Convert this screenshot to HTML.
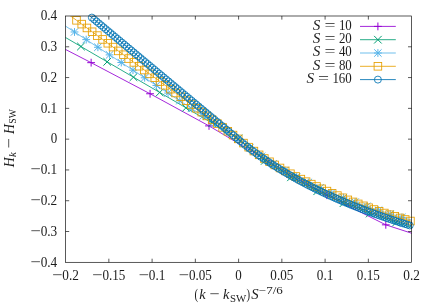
<!DOCTYPE html>
<html><head><meta charset="utf-8"><title>plot</title>
<style>
html,body{margin:0;padding:0;background:#fff;}
body{width:436px;height:305px;overflow:hidden;font-family:"Liberation Serif",serif;}
svg{display:block;will-change:transform;font-family:"Liberation Serif",serif;}
.t{font-size:15.1px;fill:#1c1c1c;}
.i{font-style:italic;}
.s{font-size:10.5px;}
</style></head><body>
<svg width="436" height="305" viewBox="0 0 436 305">
<rect width="436" height="305" fill="#fff"/>
<defs><clipPath id="c"><rect x="65.6" y="16.0" width="346.0" height="246.3"/></clipPath></defs>

<g stroke="#000" stroke-width="0.65" fill="none">
<path d="M108.85 262.3v-3.6M108.85 16.0v3.6"/>
<path d="M65.6 231.51h3.6M411.6 231.51h-3.6"/>
<path d="M152.10 262.3v-3.6M152.10 16.0v3.6"/>
<path d="M65.6 200.73h3.6M411.6 200.73h-3.6"/>
<path d="M195.35 262.3v-3.6M195.35 16.0v3.6"/>
<path d="M65.6 169.94h3.6M411.6 169.94h-3.6"/>
<path d="M238.60 262.3v-3.6M238.60 16.0v3.6"/>
<path d="M65.6 139.15h3.6M411.6 139.15h-3.6"/>
<path d="M281.85 262.3v-3.6M281.85 16.0v3.6"/>
<path d="M65.6 108.36h3.6M411.6 108.36h-3.6"/>
<path d="M325.10 262.3v-3.6M325.10 16.0v3.6"/>
<path d="M65.6 77.57h3.6M411.6 77.57h-3.6"/>
<path d="M368.35 262.3v-3.6M368.35 16.0v3.6"/>
<path d="M65.6 46.79h3.6M411.6 46.79h-3.6"/>
</g>
<text class="t" x="51.99" y="279.5" textLength="10.4" lengthAdjust="spacingAndGlyphs">−</text>
<text class="t" x="62.36" y="279.5" textLength="16.6" lengthAdjust="spacingAndGlyphs">0.2</text>
<text class="t" x="92.00" y="279.5" textLength="10.4" lengthAdjust="spacingAndGlyphs">−</text>
<text class="t" x="102.38" y="279.5" textLength="23.0" lengthAdjust="spacingAndGlyphs">0.15</text>
<text class="t" x="138.49" y="279.5" textLength="10.4" lengthAdjust="spacingAndGlyphs">−</text>
<text class="t" x="148.86" y="279.5" textLength="16.6" lengthAdjust="spacingAndGlyphs">0.1</text>
<text class="t" x="178.50" y="279.5" textLength="10.4" lengthAdjust="spacingAndGlyphs">−</text>
<text class="t" x="188.88" y="279.5" textLength="23.0" lengthAdjust="spacingAndGlyphs">0.05</text>
<text class="t" x="235.36" y="279.5" textLength="6.5" lengthAdjust="spacingAndGlyphs">0</text>
<text class="t" x="270.34" y="279.5" textLength="23.0" lengthAdjust="spacingAndGlyphs">0.05</text>
<text class="t" x="316.82" y="279.5" textLength="16.6" lengthAdjust="spacingAndGlyphs">0.1</text>
<text class="t" x="356.84" y="279.5" textLength="23.0" lengthAdjust="spacingAndGlyphs">0.15</text>
<text class="t" x="403.32" y="279.5" textLength="16.6" lengthAdjust="spacingAndGlyphs">0.2</text>
<text class="t" x="30.27" y="266.50" textLength="10.4" lengthAdjust="spacingAndGlyphs">−</text>
<text class="t" x="40.65" y="266.50" textLength="16.6" lengthAdjust="spacingAndGlyphs">0.4</text>
<text class="t" x="30.27" y="235.71" textLength="10.4" lengthAdjust="spacingAndGlyphs">−</text>
<text class="t" x="40.65" y="235.71" textLength="16.6" lengthAdjust="spacingAndGlyphs">0.3</text>
<text class="t" x="30.27" y="204.93" textLength="10.4" lengthAdjust="spacingAndGlyphs">−</text>
<text class="t" x="40.65" y="204.93" textLength="16.6" lengthAdjust="spacingAndGlyphs">0.2</text>
<text class="t" x="30.27" y="174.14" textLength="10.4" lengthAdjust="spacingAndGlyphs">−</text>
<text class="t" x="40.65" y="174.14" textLength="16.6" lengthAdjust="spacingAndGlyphs">0.1</text>
<text class="t" x="50.73" y="143.35" textLength="6.5" lengthAdjust="spacingAndGlyphs">0</text>
<text class="t" x="40.65" y="112.56" textLength="16.6" lengthAdjust="spacingAndGlyphs">0.1</text>
<text class="t" x="40.65" y="81.77" textLength="16.6" lengthAdjust="spacingAndGlyphs">0.2</text>
<text class="t" x="40.65" y="50.99" textLength="16.6" lengthAdjust="spacingAndGlyphs">0.3</text>
<text class="t" x="40.65" y="20.20" textLength="16.6" lengthAdjust="spacingAndGlyphs">0.4</text>
<g fill="none" stroke-width="0.85">
<path d="M32.21 32.32L91.14 62.66L150.07 93.76L209.01 125.90L267.94 160.97L326.87 195.20L385.80 224.83L444.73 243.99" stroke="#9400D3" clip-path="url(#c)"/>
<path d="M87.24 62.66H95.04M91.14 58.76V66.56" stroke="#9400D3" stroke-width="1"/>
<path d="M146.17 93.76H153.97M150.07 89.86V97.66" stroke="#9400D3" stroke-width="1"/>
<path d="M205.11 125.90H212.91M209.01 122.00V129.80" stroke="#9400D3" stroke-width="1"/>
<path d="M264.04 160.97H271.84M267.94 157.07V164.87" stroke="#9400D3" stroke-width="1"/>
<path d="M322.97 195.20H330.77M326.87 191.30V199.10" stroke="#9400D3" stroke-width="1"/>
<path d="M381.90 224.83H389.70M385.80 220.93V228.73" stroke="#9400D3" stroke-width="1"/>
</g>
<g fill="none" stroke-width="0.85">
<path d="M54.70 31.19L80.95 46.51L107.20 61.84L133.45 77.16L159.71 92.48L185.96 107.81L212.21 123.13L238.46 138.45L264.71 160.89L290.96 177.32L317.21 191.24L343.46 203.19L369.71 213.54L395.97 222.61L422.22 230.62L448.47 237.74" stroke="#009E73" clip-path="url(#c)"/>
<path d="M77.15 42.71L84.75 50.31M77.15 50.31L84.75 42.71" stroke="#009E73" stroke-width="1"/>
<path d="M103.40 58.04L111.00 65.64M103.40 65.64L111.00 58.04" stroke="#009E73" stroke-width="1"/>
<path d="M129.65 73.36L137.25 80.96M129.65 80.96L137.25 73.36" stroke="#009E73" stroke-width="1"/>
<path d="M155.91 88.68L163.51 96.28M155.91 96.28L163.51 88.68" stroke="#009E73" stroke-width="1"/>
<path d="M182.16 104.01L189.76 111.61M182.16 111.61L189.76 104.01" stroke="#009E73" stroke-width="1"/>
<path d="M208.41 119.33L216.01 126.93M208.41 126.93L216.01 119.33" stroke="#009E73" stroke-width="1"/>
<path d="M234.66 134.65L242.26 142.25M234.66 142.25L242.26 134.65" stroke="#009E73" stroke-width="1"/>
<path d="M260.91 157.09L268.51 164.69M260.91 164.69L268.51 157.09" stroke="#009E73" stroke-width="1"/>
<path d="M287.16 173.52L294.76 181.12M287.16 181.12L294.76 173.52" stroke="#009E73" stroke-width="1"/>
<path d="M313.41 187.44L321.01 195.04M313.41 195.04L321.01 187.44" stroke="#009E73" stroke-width="1"/>
<path d="M339.66 199.39L347.26 206.99M339.66 206.99L347.26 199.39" stroke="#009E73" stroke-width="1"/>
<path d="M365.91 209.74L373.51 217.34M365.91 217.34L373.51 209.74" stroke="#009E73" stroke-width="1"/>
<path d="M392.17 218.81L399.77 226.41M392.17 226.41L399.77 218.81" stroke="#009E73" stroke-width="1"/>
</g>
<g fill="none" stroke-width="0.85">
<path d="M62.81 24.34L74.51 31.98L86.20 39.62L97.90 47.25L109.59 54.89L121.28 62.53L132.98 70.16L144.67 77.80L156.36 85.44L168.06 93.08L179.75 100.71L191.44 108.35L203.14 115.99L214.83 123.63L226.52 131.26L238.22 138.90L249.91 147.95L261.60 156.32L273.30 163.74L284.99 170.48L296.69 176.70L308.38 182.45L320.07 187.77L331.77 192.82L343.46 197.61L355.15 202.09L366.85 206.29L378.54 210.22L390.23 213.91L401.93 217.39L413.62 220.69L425.31 223.97" stroke="#56B4E9" clip-path="url(#c)"/>
<path d="M70.61 31.98H78.41M74.51 28.08V35.88M70.81 28.28L78.21 35.68M70.81 35.68L78.21 28.28" stroke="#56B4E9" stroke-width="1"/>
<path d="M82.30 39.62H90.10M86.20 35.72V43.52M82.50 35.92L89.90 43.32M82.50 43.32L89.90 35.92" stroke="#56B4E9" stroke-width="1"/>
<path d="M94.00 47.25H101.80M97.90 43.35V51.15M94.20 43.55L101.60 50.95M94.20 50.95L101.60 43.55" stroke="#56B4E9" stroke-width="1"/>
<path d="M105.69 54.89H113.49M109.59 50.99V58.79M105.89 51.19L113.29 58.59M105.89 58.59L113.29 51.19" stroke="#56B4E9" stroke-width="1"/>
<path d="M117.38 62.53H125.18M121.28 58.63V66.43M117.58 58.83L124.98 66.23M117.58 66.23L124.98 58.83" stroke="#56B4E9" stroke-width="1"/>
<path d="M129.08 70.16H136.88M132.98 66.26V74.06M129.28 66.46L136.68 73.86M129.28 73.86L136.68 66.46" stroke="#56B4E9" stroke-width="1"/>
<path d="M140.77 77.80H148.57M144.67 73.90V81.70M140.97 74.10L148.37 81.50M140.97 81.50L148.37 74.10" stroke="#56B4E9" stroke-width="1"/>
<path d="M152.46 85.44H160.26M156.36 81.54V89.34M152.66 81.74L160.06 89.14M152.66 89.14L160.06 81.74" stroke="#56B4E9" stroke-width="1"/>
<path d="M164.16 93.08H171.96M168.06 89.18V96.98M164.36 89.38L171.76 96.78M164.36 96.78L171.76 89.38" stroke="#56B4E9" stroke-width="1"/>
<path d="M175.85 100.71H183.65M179.75 96.81V104.61M176.05 97.01L183.45 104.41M176.05 104.41L183.45 97.01" stroke="#56B4E9" stroke-width="1"/>
<path d="M187.54 108.35H195.34M191.44 104.45V112.25M187.74 104.65L195.14 112.05M187.74 112.05L195.14 104.65" stroke="#56B4E9" stroke-width="1"/>
<path d="M199.24 115.99H207.04M203.14 112.09V119.89M199.44 112.29L206.84 119.69M199.44 119.69L206.84 112.29" stroke="#56B4E9" stroke-width="1"/>
<path d="M210.93 123.63H218.73M214.83 119.73V127.53M211.13 119.93L218.53 127.33M211.13 127.33L218.53 119.93" stroke="#56B4E9" stroke-width="1"/>
<path d="M222.62 131.26H230.42M226.52 127.36V135.16M222.82 127.56L230.22 134.96M222.82 134.96L230.22 127.56" stroke="#56B4E9" stroke-width="1"/>
<path d="M234.32 138.90H242.12M238.22 135.00V142.80M234.52 135.20L241.92 142.60M234.52 142.60L241.92 135.20" stroke="#56B4E9" stroke-width="1"/>
<path d="M246.01 147.95H253.81M249.91 144.05V151.85M246.21 144.25L253.61 151.65M246.21 151.65L253.61 144.25" stroke="#56B4E9" stroke-width="1"/>
<path d="M257.70 156.32H265.50M261.60 152.42V160.22M257.90 152.62L265.30 160.02M257.90 160.02L265.30 152.62" stroke="#56B4E9" stroke-width="1"/>
<path d="M269.40 163.74H277.20M273.30 159.84V167.64M269.60 160.04L277.00 167.44M269.60 167.44L277.00 160.04" stroke="#56B4E9" stroke-width="1"/>
<path d="M281.09 170.48H288.89M284.99 166.58V174.38M281.29 166.78L288.69 174.18M281.29 174.18L288.69 166.78" stroke="#56B4E9" stroke-width="1"/>
<path d="M292.79 176.70H300.59M296.69 172.80V180.60M292.99 173.00L300.39 180.40M292.99 180.40L300.39 173.00" stroke="#56B4E9" stroke-width="1"/>
<path d="M304.48 182.45H312.28M308.38 178.55V186.35M304.68 178.75L312.08 186.15M304.68 186.15L312.08 178.75" stroke="#56B4E9" stroke-width="1"/>
<path d="M316.17 187.77H323.97M320.07 183.87V191.67M316.37 184.07L323.77 191.47M316.37 191.47L323.77 184.07" stroke="#56B4E9" stroke-width="1"/>
<path d="M327.87 192.82H335.67M331.77 188.92V196.72M328.07 189.12L335.47 196.52M328.07 196.52L335.47 189.12" stroke="#56B4E9" stroke-width="1"/>
<path d="M339.56 197.61H347.36M343.46 193.71V201.51M339.76 193.91L347.16 201.31M339.76 201.31L347.16 193.91" stroke="#56B4E9" stroke-width="1"/>
<path d="M351.25 202.09H359.05M355.15 198.19V205.99M351.45 198.39L358.85 205.79M351.45 205.79L358.85 198.39" stroke="#56B4E9" stroke-width="1"/>
<path d="M362.95 206.29H370.75M366.85 202.39V210.19M363.15 202.59L370.55 209.99M363.15 209.99L370.55 202.59" stroke="#56B4E9" stroke-width="1"/>
<path d="M374.64 210.22H382.44M378.54 206.32V214.12M374.84 206.52L382.24 213.92M374.84 213.92L382.24 206.52" stroke="#56B4E9" stroke-width="1"/>
<path d="M386.33 213.91H394.13M390.23 210.01V217.81M386.53 210.21L393.93 217.61M386.53 217.61L393.93 210.21" stroke="#56B4E9" stroke-width="1"/>
<path d="M398.03 217.39H405.83M401.93 213.49V221.29M398.23 213.69L405.63 221.09M398.23 221.09L405.63 213.69" stroke="#56B4E9" stroke-width="1"/>
</g>
<g fill="none" stroke-width="0.85">
<path d="M66.06 12.65L71.28 16.47L76.50 20.30L81.72 24.12L86.93 27.95L92.15 31.77L97.37 35.60L102.59 39.42L107.81 43.25L113.02 47.08L118.24 50.90L123.46 54.73L128.68 58.55L133.89 62.38L139.11 66.20L144.33 70.03L149.55 73.86L154.76 77.68L159.98 81.51L165.20 85.33L170.42 89.16L175.63 92.98L180.85 96.81L186.07 100.63L191.29 104.46L196.51 108.29L201.72 112.11L206.94 115.94L212.16 119.76L217.38 123.59L222.59 127.41L227.81 131.24L233.03 135.07L238.25 138.89L243.46 143.09L248.68 147.15L253.90 151.07L259.12 154.84L264.34 158.48L269.55 161.77L274.77 164.93L279.99 167.97L285.21 170.91L290.42 173.74L295.64 176.47L300.86 179.11L306.08 181.66L311.29 184.12L316.51 186.50L321.73 188.80L326.95 191.08L332.17 193.38L337.38 195.60L342.60 197.77L347.82 199.87L353.04 201.91L358.25 203.89L363.47 205.82L368.69 207.70L373.91 209.52L379.12 211.29L384.34 213.02L389.56 214.70L394.78 216.34L400.00 217.94L405.21 219.49L410.43 221.01L415.65 222.52" stroke="#E69F00" clip-path="url(#c)"/>
<rect x="72.70" y="16.50" width="7.60" height="7.60" stroke="#E69F00"/>
<rect x="77.92" y="20.32" width="7.60" height="7.60" stroke="#E69F00"/>
<rect x="83.13" y="24.15" width="7.60" height="7.60" stroke="#E69F00"/>
<rect x="88.35" y="27.97" width="7.60" height="7.60" stroke="#E69F00"/>
<rect x="93.57" y="31.80" width="7.60" height="7.60" stroke="#E69F00"/>
<rect x="98.79" y="35.62" width="7.60" height="7.60" stroke="#E69F00"/>
<rect x="104.01" y="39.45" width="7.60" height="7.60" stroke="#E69F00"/>
<rect x="109.22" y="43.28" width="7.60" height="7.60" stroke="#E69F00"/>
<rect x="114.44" y="47.10" width="7.60" height="7.60" stroke="#E69F00"/>
<rect x="119.66" y="50.93" width="7.60" height="7.60" stroke="#E69F00"/>
<rect x="124.88" y="54.75" width="7.60" height="7.60" stroke="#E69F00"/>
<rect x="130.09" y="58.58" width="7.60" height="7.60" stroke="#E69F00"/>
<rect x="135.31" y="62.40" width="7.60" height="7.60" stroke="#E69F00"/>
<rect x="140.53" y="66.23" width="7.60" height="7.60" stroke="#E69F00"/>
<rect x="145.75" y="70.06" width="7.60" height="7.60" stroke="#E69F00"/>
<rect x="150.96" y="73.88" width="7.60" height="7.60" stroke="#E69F00"/>
<rect x="156.18" y="77.71" width="7.60" height="7.60" stroke="#E69F00"/>
<rect x="161.40" y="81.53" width="7.60" height="7.60" stroke="#E69F00"/>
<rect x="166.62" y="85.36" width="7.60" height="7.60" stroke="#E69F00"/>
<rect x="171.83" y="89.18" width="7.60" height="7.60" stroke="#E69F00"/>
<rect x="177.05" y="93.01" width="7.60" height="7.60" stroke="#E69F00"/>
<rect x="182.27" y="96.83" width="7.60" height="7.60" stroke="#E69F00"/>
<rect x="187.49" y="100.66" width="7.60" height="7.60" stroke="#E69F00"/>
<rect x="192.71" y="104.49" width="7.60" height="7.60" stroke="#E69F00"/>
<rect x="197.92" y="108.31" width="7.60" height="7.60" stroke="#E69F00"/>
<rect x="203.14" y="112.14" width="7.60" height="7.60" stroke="#E69F00"/>
<rect x="208.36" y="115.96" width="7.60" height="7.60" stroke="#E69F00"/>
<rect x="213.58" y="119.79" width="7.60" height="7.60" stroke="#E69F00"/>
<rect x="218.79" y="123.61" width="7.60" height="7.60" stroke="#E69F00"/>
<rect x="224.01" y="127.44" width="7.60" height="7.60" stroke="#E69F00"/>
<rect x="229.23" y="131.27" width="7.60" height="7.60" stroke="#E69F00"/>
<rect x="234.45" y="135.09" width="7.60" height="7.60" stroke="#E69F00"/>
<rect x="239.66" y="139.29" width="7.60" height="7.60" stroke="#E69F00"/>
<rect x="244.88" y="143.35" width="7.60" height="7.60" stroke="#E69F00"/>
<rect x="250.10" y="147.27" width="7.60" height="7.60" stroke="#E69F00"/>
<rect x="255.32" y="151.04" width="7.60" height="7.60" stroke="#E69F00"/>
<rect x="260.54" y="154.68" width="7.60" height="7.60" stroke="#E69F00"/>
<rect x="265.75" y="157.97" width="7.60" height="7.60" stroke="#E69F00"/>
<rect x="270.97" y="161.13" width="7.60" height="7.60" stroke="#E69F00"/>
<rect x="276.19" y="164.17" width="7.60" height="7.60" stroke="#E69F00"/>
<rect x="281.41" y="167.11" width="7.60" height="7.60" stroke="#E69F00"/>
<rect x="286.62" y="169.94" width="7.60" height="7.60" stroke="#E69F00"/>
<rect x="291.84" y="172.67" width="7.60" height="7.60" stroke="#E69F00"/>
<rect x="297.06" y="175.31" width="7.60" height="7.60" stroke="#E69F00"/>
<rect x="302.28" y="177.86" width="7.60" height="7.60" stroke="#E69F00"/>
<rect x="307.49" y="180.32" width="7.60" height="7.60" stroke="#E69F00"/>
<rect x="312.71" y="182.70" width="7.60" height="7.60" stroke="#E69F00"/>
<rect x="317.93" y="185.00" width="7.60" height="7.60" stroke="#E69F00"/>
<rect x="323.15" y="187.28" width="7.60" height="7.60" stroke="#E69F00"/>
<rect x="328.37" y="189.58" width="7.60" height="7.60" stroke="#E69F00"/>
<rect x="333.58" y="191.80" width="7.60" height="7.60" stroke="#E69F00"/>
<rect x="338.80" y="193.97" width="7.60" height="7.60" stroke="#E69F00"/>
<rect x="344.02" y="196.07" width="7.60" height="7.60" stroke="#E69F00"/>
<rect x="349.24" y="198.11" width="7.60" height="7.60" stroke="#E69F00"/>
<rect x="354.45" y="200.09" width="7.60" height="7.60" stroke="#E69F00"/>
<rect x="359.67" y="202.02" width="7.60" height="7.60" stroke="#E69F00"/>
<rect x="364.89" y="203.90" width="7.60" height="7.60" stroke="#E69F00"/>
<rect x="370.11" y="205.72" width="7.60" height="7.60" stroke="#E69F00"/>
<rect x="375.32" y="207.49" width="7.60" height="7.60" stroke="#E69F00"/>
<rect x="380.54" y="209.22" width="7.60" height="7.60" stroke="#E69F00"/>
<rect x="385.76" y="210.90" width="7.60" height="7.60" stroke="#E69F00"/>
<rect x="390.98" y="212.54" width="7.60" height="7.60" stroke="#E69F00"/>
<rect x="396.20" y="214.14" width="7.60" height="7.60" stroke="#E69F00"/>
<rect x="401.41" y="215.69" width="7.60" height="7.60" stroke="#E69F00"/>
<rect x="406.63" y="217.21" width="7.60" height="7.60" stroke="#E69F00"/>
</g>
<g fill="none" stroke-width="0.85">
<path d="M87.25 13.72L89.57 15.65L91.89 17.58L94.22 19.51L96.54 21.45L98.86 23.38L101.18 25.31L103.50 27.24L105.82 29.18L108.14 31.11L110.46 33.04L112.78 34.97L115.10 36.91L117.42 38.84L119.74 40.77L122.06 42.70L124.38 44.64L126.70 46.57L129.02 48.50L131.34 50.43L133.66 52.37L135.98 54.30L138.30 56.23L140.62 58.16L142.94 60.10L145.26 62.03L147.58 63.96L149.90 65.89L152.22 67.83L154.54 69.76L156.86 71.69L159.18 73.62L161.50 75.56L163.82 77.49L166.14 79.42L168.46 81.35L170.78 83.29L173.11 85.22L175.43 87.15L177.75 89.08L180.07 91.01L182.39 92.95L184.71 94.88L187.03 96.81L189.35 98.74L191.67 100.68L193.99 102.61L196.31 104.54L198.63 106.47L200.95 108.41L203.27 110.34L205.59 112.27L207.91 114.20L210.23 116.14L212.55 118.07L214.87 120.00L217.19 121.93L219.51 123.87L221.83 125.80L224.15 127.73L226.47 129.66L228.79 131.60L231.11 133.53L233.43 135.46L235.75 137.39L238.07 139.33L240.39 141.23L242.71 143.10L245.03 144.94L247.35 146.75L249.67 148.52L252.00 150.27L254.32 151.99L256.64 153.68L258.96 155.34L261.28 156.98L263.60 158.58L265.92 160.17L268.24 161.73L270.56 163.26L272.88 164.77L275.20 166.26L277.52 167.72L279.84 169.16L282.16 170.58L284.48 171.98L286.80 173.36L289.12 174.72L291.44 176.06L293.76 177.38L296.08 178.68L298.40 179.96L300.72 181.22L303.04 182.46L305.36 183.69L307.68 184.90L310.00 186.10L312.32 187.27L314.64 188.44L316.96 189.58L319.28 190.71L321.60 191.83L323.92 192.93L326.24 194.01L328.56 195.09L330.89 196.14L333.21 197.19L335.53 198.22L337.85 199.24L340.17 200.24L342.49 201.23L344.81 202.21L347.13 203.18L349.45 204.14L351.77 205.08L354.09 206.01L356.41 206.93L358.73 207.84L361.05 208.74L363.37 209.63L365.69 210.51L368.01 211.37L370.33 212.23L372.65 213.08L374.97 213.92L377.29 214.74L379.61 215.56L381.93 216.37L384.25 217.17L386.57 217.96L388.89 218.74L391.21 219.52L393.53 220.28L395.85 221.04L398.17 221.79L400.49 222.53L402.81 223.26L405.13 223.98L407.45 224.70L409.78 225.41L412.10 226.11L414.42 226.80" stroke="#0072B2" clip-path="url(#c)"/>
<circle cx="91.89" cy="17.58" r="3.5" stroke="#0072B2"/>
<circle cx="94.22" cy="19.51" r="3.5" stroke="#0072B2"/>
<circle cx="96.54" cy="21.45" r="3.5" stroke="#0072B2"/>
<circle cx="98.86" cy="23.38" r="3.5" stroke="#0072B2"/>
<circle cx="101.18" cy="25.31" r="3.5" stroke="#0072B2"/>
<circle cx="103.50" cy="27.24" r="3.5" stroke="#0072B2"/>
<circle cx="105.82" cy="29.18" r="3.5" stroke="#0072B2"/>
<circle cx="108.14" cy="31.11" r="3.5" stroke="#0072B2"/>
<circle cx="110.46" cy="33.04" r="3.5" stroke="#0072B2"/>
<circle cx="112.78" cy="34.97" r="3.5" stroke="#0072B2"/>
<circle cx="115.10" cy="36.91" r="3.5" stroke="#0072B2"/>
<circle cx="117.42" cy="38.84" r="3.5" stroke="#0072B2"/>
<circle cx="119.74" cy="40.77" r="3.5" stroke="#0072B2"/>
<circle cx="122.06" cy="42.70" r="3.5" stroke="#0072B2"/>
<circle cx="124.38" cy="44.64" r="3.5" stroke="#0072B2"/>
<circle cx="126.70" cy="46.57" r="3.5" stroke="#0072B2"/>
<circle cx="129.02" cy="48.50" r="3.5" stroke="#0072B2"/>
<circle cx="131.34" cy="50.43" r="3.5" stroke="#0072B2"/>
<circle cx="133.66" cy="52.37" r="3.5" stroke="#0072B2"/>
<circle cx="135.98" cy="54.30" r="3.5" stroke="#0072B2"/>
<circle cx="138.30" cy="56.23" r="3.5" stroke="#0072B2"/>
<circle cx="140.62" cy="58.16" r="3.5" stroke="#0072B2"/>
<circle cx="142.94" cy="60.10" r="3.5" stroke="#0072B2"/>
<circle cx="145.26" cy="62.03" r="3.5" stroke="#0072B2"/>
<circle cx="147.58" cy="63.96" r="3.5" stroke="#0072B2"/>
<circle cx="149.90" cy="65.89" r="3.5" stroke="#0072B2"/>
<circle cx="152.22" cy="67.83" r="3.5" stroke="#0072B2"/>
<circle cx="154.54" cy="69.76" r="3.5" stroke="#0072B2"/>
<circle cx="156.86" cy="71.69" r="3.5" stroke="#0072B2"/>
<circle cx="159.18" cy="73.62" r="3.5" stroke="#0072B2"/>
<circle cx="161.50" cy="75.56" r="3.5" stroke="#0072B2"/>
<circle cx="163.82" cy="77.49" r="3.5" stroke="#0072B2"/>
<circle cx="166.14" cy="79.42" r="3.5" stroke="#0072B2"/>
<circle cx="168.46" cy="81.35" r="3.5" stroke="#0072B2"/>
<circle cx="170.78" cy="83.29" r="3.5" stroke="#0072B2"/>
<circle cx="173.11" cy="85.22" r="3.5" stroke="#0072B2"/>
<circle cx="175.43" cy="87.15" r="3.5" stroke="#0072B2"/>
<circle cx="177.75" cy="89.08" r="3.5" stroke="#0072B2"/>
<circle cx="180.07" cy="91.01" r="3.5" stroke="#0072B2"/>
<circle cx="182.39" cy="92.95" r="3.5" stroke="#0072B2"/>
<circle cx="184.71" cy="94.88" r="3.5" stroke="#0072B2"/>
<circle cx="187.03" cy="96.81" r="3.5" stroke="#0072B2"/>
<circle cx="189.35" cy="98.74" r="3.5" stroke="#0072B2"/>
<circle cx="191.67" cy="100.68" r="3.5" stroke="#0072B2"/>
<circle cx="193.99" cy="102.61" r="3.5" stroke="#0072B2"/>
<circle cx="196.31" cy="104.54" r="3.5" stroke="#0072B2"/>
<circle cx="198.63" cy="106.47" r="3.5" stroke="#0072B2"/>
<circle cx="200.95" cy="108.41" r="3.5" stroke="#0072B2"/>
<circle cx="203.27" cy="110.34" r="3.5" stroke="#0072B2"/>
<circle cx="205.59" cy="112.27" r="3.5" stroke="#0072B2"/>
<circle cx="207.91" cy="114.20" r="3.5" stroke="#0072B2"/>
<circle cx="210.23" cy="116.14" r="3.5" stroke="#0072B2"/>
<circle cx="212.55" cy="118.07" r="3.5" stroke="#0072B2"/>
<circle cx="214.87" cy="120.00" r="3.5" stroke="#0072B2"/>
<circle cx="217.19" cy="121.93" r="3.5" stroke="#0072B2"/>
<circle cx="219.51" cy="123.87" r="3.5" stroke="#0072B2"/>
<circle cx="221.83" cy="125.80" r="3.5" stroke="#0072B2"/>
<circle cx="224.15" cy="127.73" r="3.5" stroke="#0072B2"/>
<circle cx="226.47" cy="129.66" r="3.5" stroke="#0072B2"/>
<circle cx="228.79" cy="131.60" r="3.5" stroke="#0072B2"/>
<circle cx="231.11" cy="133.53" r="3.5" stroke="#0072B2"/>
<circle cx="233.43" cy="135.46" r="3.5" stroke="#0072B2"/>
<circle cx="235.75" cy="137.39" r="3.5" stroke="#0072B2"/>
<circle cx="238.07" cy="139.33" r="3.5" stroke="#0072B2"/>
<circle cx="240.39" cy="141.23" r="3.5" stroke="#0072B2"/>
<circle cx="242.71" cy="143.10" r="3.5" stroke="#0072B2"/>
<circle cx="245.03" cy="144.94" r="3.5" stroke="#0072B2"/>
<circle cx="247.35" cy="146.75" r="3.5" stroke="#0072B2"/>
<circle cx="249.67" cy="148.52" r="3.5" stroke="#0072B2"/>
<circle cx="252.00" cy="150.27" r="3.5" stroke="#0072B2"/>
<circle cx="254.32" cy="151.99" r="3.5" stroke="#0072B2"/>
<circle cx="256.64" cy="153.68" r="3.5" stroke="#0072B2"/>
<circle cx="258.96" cy="155.34" r="3.5" stroke="#0072B2"/>
<circle cx="261.28" cy="156.98" r="3.5" stroke="#0072B2"/>
<circle cx="263.60" cy="158.58" r="3.5" stroke="#0072B2"/>
<circle cx="265.92" cy="160.17" r="3.5" stroke="#0072B2"/>
<circle cx="268.24" cy="161.73" r="3.5" stroke="#0072B2"/>
<circle cx="270.56" cy="163.26" r="3.5" stroke="#0072B2"/>
<circle cx="272.88" cy="164.77" r="3.5" stroke="#0072B2"/>
<circle cx="275.20" cy="166.26" r="3.5" stroke="#0072B2"/>
<circle cx="277.52" cy="167.72" r="3.5" stroke="#0072B2"/>
<circle cx="279.84" cy="169.16" r="3.5" stroke="#0072B2"/>
<circle cx="282.16" cy="170.58" r="3.5" stroke="#0072B2"/>
<circle cx="284.48" cy="171.98" r="3.5" stroke="#0072B2"/>
<circle cx="286.80" cy="173.36" r="3.5" stroke="#0072B2"/>
<circle cx="289.12" cy="174.72" r="3.5" stroke="#0072B2"/>
<circle cx="291.44" cy="176.06" r="3.5" stroke="#0072B2"/>
<circle cx="293.76" cy="177.38" r="3.5" stroke="#0072B2"/>
<circle cx="296.08" cy="178.68" r="3.5" stroke="#0072B2"/>
<circle cx="298.40" cy="179.96" r="3.5" stroke="#0072B2"/>
<circle cx="300.72" cy="181.22" r="3.5" stroke="#0072B2"/>
<circle cx="303.04" cy="182.46" r="3.5" stroke="#0072B2"/>
<circle cx="305.36" cy="183.69" r="3.5" stroke="#0072B2"/>
<circle cx="307.68" cy="184.90" r="3.5" stroke="#0072B2"/>
<circle cx="310.00" cy="186.10" r="3.5" stroke="#0072B2"/>
<circle cx="312.32" cy="187.27" r="3.5" stroke="#0072B2"/>
<circle cx="314.64" cy="188.44" r="3.5" stroke="#0072B2"/>
<circle cx="316.96" cy="189.58" r="3.5" stroke="#0072B2"/>
<circle cx="319.28" cy="190.71" r="3.5" stroke="#0072B2"/>
<circle cx="321.60" cy="191.83" r="3.5" stroke="#0072B2"/>
<circle cx="323.92" cy="192.93" r="3.5" stroke="#0072B2"/>
<circle cx="326.24" cy="194.01" r="3.5" stroke="#0072B2"/>
<circle cx="328.56" cy="195.09" r="3.5" stroke="#0072B2"/>
<circle cx="330.89" cy="196.14" r="3.5" stroke="#0072B2"/>
<circle cx="333.21" cy="197.19" r="3.5" stroke="#0072B2"/>
<circle cx="335.53" cy="198.22" r="3.5" stroke="#0072B2"/>
<circle cx="337.85" cy="199.24" r="3.5" stroke="#0072B2"/>
<circle cx="340.17" cy="200.24" r="3.5" stroke="#0072B2"/>
<circle cx="342.49" cy="201.23" r="3.5" stroke="#0072B2"/>
<circle cx="344.81" cy="202.21" r="3.5" stroke="#0072B2"/>
<circle cx="347.13" cy="203.18" r="3.5" stroke="#0072B2"/>
<circle cx="349.45" cy="204.14" r="3.5" stroke="#0072B2"/>
<circle cx="351.77" cy="205.08" r="3.5" stroke="#0072B2"/>
<circle cx="354.09" cy="206.01" r="3.5" stroke="#0072B2"/>
<circle cx="356.41" cy="206.93" r="3.5" stroke="#0072B2"/>
<circle cx="358.73" cy="207.84" r="3.5" stroke="#0072B2"/>
<circle cx="361.05" cy="208.74" r="3.5" stroke="#0072B2"/>
<circle cx="363.37" cy="209.63" r="3.5" stroke="#0072B2"/>
<circle cx="365.69" cy="210.51" r="3.5" stroke="#0072B2"/>
<circle cx="368.01" cy="211.37" r="3.5" stroke="#0072B2"/>
<circle cx="370.33" cy="212.23" r="3.5" stroke="#0072B2"/>
<circle cx="372.65" cy="213.08" r="3.5" stroke="#0072B2"/>
<circle cx="374.97" cy="213.92" r="3.5" stroke="#0072B2"/>
<circle cx="377.29" cy="214.74" r="3.5" stroke="#0072B2"/>
<circle cx="379.61" cy="215.56" r="3.5" stroke="#0072B2"/>
<circle cx="381.93" cy="216.37" r="3.5" stroke="#0072B2"/>
<circle cx="384.25" cy="217.17" r="3.5" stroke="#0072B2"/>
<circle cx="386.57" cy="217.96" r="3.5" stroke="#0072B2"/>
<circle cx="388.89" cy="218.74" r="3.5" stroke="#0072B2"/>
<circle cx="391.21" cy="219.52" r="3.5" stroke="#0072B2"/>
<circle cx="393.53" cy="220.28" r="3.5" stroke="#0072B2"/>
<circle cx="395.85" cy="221.04" r="3.5" stroke="#0072B2"/>
<circle cx="398.17" cy="221.79" r="3.5" stroke="#0072B2"/>
<circle cx="400.49" cy="222.53" r="3.5" stroke="#0072B2"/>
<circle cx="402.81" cy="223.26" r="3.5" stroke="#0072B2"/>
<circle cx="405.13" cy="223.98" r="3.5" stroke="#0072B2"/>
<circle cx="407.45" cy="224.70" r="3.5" stroke="#0072B2"/>
<circle cx="409.78" cy="225.41" r="3.5" stroke="#0072B2"/>
</g>
<rect x="65.6" y="16.0" width="346.0" height="246.3" fill="none" stroke="#000" stroke-width="0.65"/>
<g fill="none" stroke-width="0.85"><path d="M360 26.4H395.8" stroke="#9400D3"/><path d="M374.00 26.40H381.80M377.90 22.50V30.30" stroke="#9400D3" stroke-width="1"/></g>
<text class="t" x="351.8" y="29.6" text-anchor="end" textLength="12.9" lengthAdjust="spacingAndGlyphs">10</text>
<text class="t" x="324.4" y="29.6" textLength="11.0" lengthAdjust="spacingAndGlyphs">=</text>
<text class="t i" x="312.8" y="29.6" textLength="7.6" lengthAdjust="spacingAndGlyphs">S</text>
<g fill="none" stroke-width="0.85"><path d="M360 39.7H395.8" stroke="#009E73"/><path d="M374.10 35.90L381.70 43.50M374.10 43.50L381.70 35.90" stroke="#009E73" stroke-width="1"/></g>
<text class="t" x="351.8" y="42.9" text-anchor="end" textLength="12.9" lengthAdjust="spacingAndGlyphs">20</text>
<text class="t" x="324.4" y="42.9" textLength="11.0" lengthAdjust="spacingAndGlyphs">=</text>
<text class="t i" x="312.8" y="42.9" textLength="7.6" lengthAdjust="spacingAndGlyphs">S</text>
<g fill="none" stroke-width="0.85"><path d="M360 53.0H395.8" stroke="#56B4E9"/><path d="M374.00 53.00H381.80M377.90 49.10V56.90M374.20 49.30L381.60 56.70M374.20 56.70L381.60 49.30" stroke="#56B4E9" stroke-width="1"/></g>
<text class="t" x="351.8" y="56.2" text-anchor="end" textLength="12.9" lengthAdjust="spacingAndGlyphs">40</text>
<text class="t" x="324.4" y="56.2" textLength="11.0" lengthAdjust="spacingAndGlyphs">=</text>
<text class="t i" x="312.8" y="56.2" textLength="7.6" lengthAdjust="spacingAndGlyphs">S</text>
<g fill="none" stroke-width="0.85"><path d="M360 66.3H395.8" stroke="#E69F00"/><rect x="374.10" y="62.50" width="7.60" height="7.60" stroke="#E69F00"/></g>
<text class="t" x="351.8" y="69.5" text-anchor="end" textLength="12.9" lengthAdjust="spacingAndGlyphs">80</text>
<text class="t" x="324.4" y="69.5" textLength="11.0" lengthAdjust="spacingAndGlyphs">=</text>
<text class="t i" x="312.8" y="69.5" textLength="7.6" lengthAdjust="spacingAndGlyphs">S</text>
<g fill="none" stroke-width="0.85"><path d="M360 79.6H395.8" stroke="#0072B2"/><circle cx="377.90" cy="79.60" r="3.5" stroke="#0072B2"/></g>
<text class="t" x="351.8" y="82.8" text-anchor="end" textLength="19.4" lengthAdjust="spacingAndGlyphs">160</text>
<text class="t" x="318.0" y="82.8" textLength="11.0" lengthAdjust="spacingAndGlyphs">=</text>
<text class="t i" x="306.4" y="82.8" textLength="7.6" lengthAdjust="spacingAndGlyphs">S</text>
<g class="t">
<text x="194.6" y="298.6" textLength="3.6" lengthAdjust="spacingAndGlyphs">(</text>
<text class="i" x="199.3" y="298.6" textLength="6.4" lengthAdjust="spacingAndGlyphs">k</text>
<text x="209.2" y="298.6" textLength="10.2" lengthAdjust="spacingAndGlyphs">−</text>
<text class="i" x="223.0" y="298.6" textLength="6.4" lengthAdjust="spacingAndGlyphs">k</text>
<text class="s" x="229.9" y="301.5" textLength="16.2" lengthAdjust="spacingAndGlyphs">SW</text>
<text x="246.6" y="298.6" textLength="3.6" lengthAdjust="spacingAndGlyphs">)</text>
<text class="i" x="251.2" y="298.6" textLength="7.4" lengthAdjust="spacingAndGlyphs">S</text>
<text class="s" x="258.9" y="294.0" textLength="24.0" lengthAdjust="spacingAndGlyphs">−7/6</text>
</g>
<g class="t" transform="translate(13.8,167.2) rotate(-90)">
<text class="i" x="0" y="0" textLength="10.0" lengthAdjust="spacingAndGlyphs">H</text>
<text class="i s" x="10.2" y="2.6" textLength="4.8" lengthAdjust="spacingAndGlyphs">k</text>
<text x="18.6" y="0" textLength="10.2" lengthAdjust="spacingAndGlyphs">−</text>
<text class="i" x="33.3" y="0" textLength="10.0" lengthAdjust="spacingAndGlyphs">H</text>
<text class="s" x="43.5" y="2.6" textLength="14.6" lengthAdjust="spacingAndGlyphs">SW</text>
</g>
</svg></body></html>
